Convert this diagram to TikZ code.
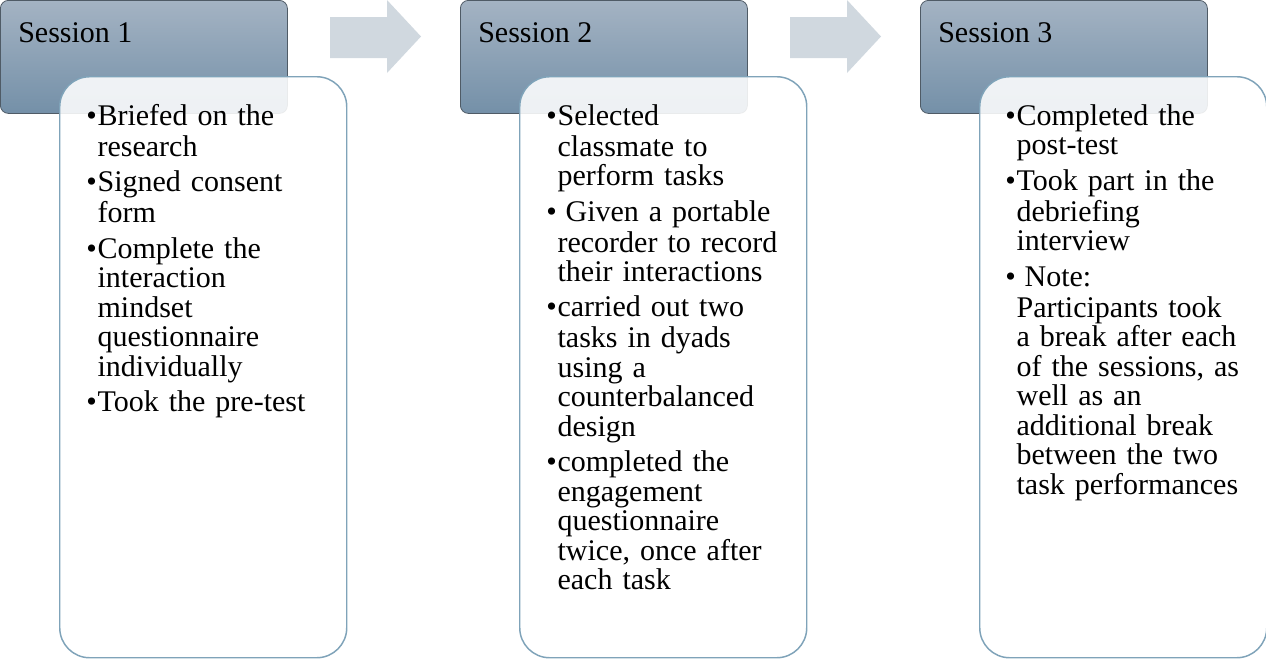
\documentclass[tikz,border=0pt]{standalone}
\usepackage{fontspec}
\setmainfont{Liberation Serif}
\usetikzlibrary{positioning}
\definecolor{hdtop}{HTML}{A4B3C3}
\definecolor{hdbot}{HTML}{7490A8}
\definecolor{hdline}{HTML}{4F5B66}
\definecolor{boxline}{HTML}{7FA3B9}
\definecolor{arrfill}{HTML}{D0D8DF}
\newlength{\bhang}\setlength{\bhang}{8.5pt}
\newcommand{\bitem}[1]{\par\hangindent=\bhang\hangafter=1\noindent\makebox[\bhang][l]{\strut\textbullet}#1\par}

\begin{document}
\begin{tikzpicture}[x=0.75pt,y=-0.75pt,
  header/.style={draw=hdline,line width=0.6pt,rounded corners=6pt,top color=hdtop,bottom color=hdbot,
    minimum width=215.25pt,minimum height=84.75pt,anchor=north west,inner sep=0pt},
  panel/.style={draw=boxline,line width=1.1pt,fill=white,fill opacity=0.88,rounded corners=22.5pt,
    minimum width=215.25pt,minimum height=435.75pt,anchor=north west,inner sep=0pt},
  title/.style={anchor=base west,inner sep=0pt,font=\fontsize{22.5}{22.1}\selectfont},
  items/.style={anchor=north west,inner sep=0pt,text width=200pt,
    font=\fontsize{22.5}{22.1}\selectfont\setlength{\parskip}{4.5pt}},
  flowarrow/.style={fill=arrfill}]
\useasboundingbox (0,0) rectangle (1266,658);
% session 1
\node[header] (s1head) at (0,0) {};
\node[title] (s1title) at (18,42) {Session 1};
\node[panel] (s1panel) at (59,76) {};
\node[items] (s1list) at (86,89.4) {%
  \bitem{Briefed on the\newline research}
  \bitem{Signed consent\newline form}
  \bitem{Complete the\newline interaction\newline mindset\newline questionnaire\newline individually}
  \bitem{Took the pre-test}};
% arrow 1 -> 2
\fill[flowarrow] (330,17) -- (387,17) -- (387,0) -- (421,36.5) -- (387,73) -- (387,58) -- (330,58) -- cycle;
% session 2
\node[header] (s2head) at (460,0) {};
\node[title] (s2title) at (478,42) {Session 2};
\node[panel] (s2panel) at (519,76) {};
\node[items] (s2list) at (546,89.4) {%
  \bitem{Selected\newline classmate to\newline perform tasks}
  \bitem{\hspace{6pt}Given a portable\newline recorder to record\newline their interactions}
  \bitem{carried out two\newline tasks in dyads\newline using a\newline counterbalanced\newline design}
  \bitem{completed the\newline engagement\newline questionnaire\newline twice, once after\newline each task}};
% arrow 2 -> 3
\fill[flowarrow] (790,17) -- (847,17) -- (847,0) -- (881,36.5) -- (847,73) -- (847,58) -- (790,58) -- cycle;
% session 3
\node[header] (s3head) at (920,0) {};
\node[title] (s3title) at (938,42) {Session 3};
\node[panel] (s3panel) at (979,76) {};
\node[items] (s3list) at (1005,89.4) {%
  \bitem{Completed the\newline post-test}
  \bitem{Took part in the\newline debriefing\newline interview}
  \bitem{\hspace{6pt}Note:\newline Participants took\newline a break after each\newline of the sessions, as\newline well as an\newline additional break\newline between the two\newline task performances}};
\end{tikzpicture}
\end{document}
